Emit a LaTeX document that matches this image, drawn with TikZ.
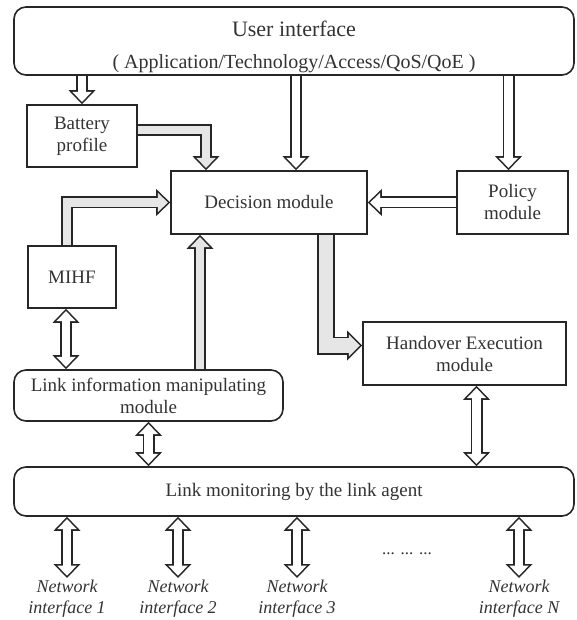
\documentclass[tikz,border=0pt]{standalone}
\usepackage{fontspec}
\setmainfont{Liberation Serif}
\usetikzlibrary{arrows.meta, positioning, calc, backgrounds}
\definecolor{cink}{HTML}{262626}
\definecolor{ctext}{HTML}{333333}
\definecolor{cshade}{HTML}{E6E6E6}
\tikzset{
  every picture/.style={line width=1.6pt},
  headout/.tip={Triangle[length=14pt, width=27pt, line width=0pt]},
  headin/.tip={Triangle[length=10.1pt, width=19.5pt, line width=0pt]},
  fatout/.tip={Triangle[length=15pt, width=30pt, line width=0pt]},
  fatin/.tip={Triangle[length=11.1pt, width=22.2pt, line width=0pt]},
  box/.style={draw=cink, fill=white, text=ctext, align=center, inner sep=2pt, font=\fontsize{19}{22}\selectfont},
  flow/.style={draw=#1, line width=8.8pt, -headin, shorten >=2.3pt,
    preaction={draw=cink, line width=12pt, -headout, shorten >=0pt}},
  flow/.default=white,
  biflow/.style={draw=white, line width=8.8pt, headin-headin, shorten >=2.3pt, shorten <=2.3pt,
    preaction={draw=cink, line width=12pt, headout-headout, shorten >=0pt, shorten <=0pt}},
  fatflow/.style={draw=cshade, line width=14.8pt, -fatin, shorten >=2.3pt,
    preaction={draw=cink, line width=18pt, -fatout, shorten >=0pt}},
  netlabel/.style={text=ctext, align=center, inner sep=1.5pt, anchor=north, font=\itshape\fontsize{18}{21}\selectfont},
}
\begin{document}
\begin{tikzpicture}[x=1pt, y=-1pt,
  roundbox/.style={box, rounded corners=12pt}]
  \useasboundingbox (0,0) rectangle (576,620);
  % modules
  \node[roundbox, minimum width=560pt, minimum height=68pt, font=\fontsize{20}{32}\selectfont] (ui) at (294,41)
    {{\fontsize{22}{32}\selectfont\rule{0pt}{27pt}User interface}\\( Application/Technology/Access/QoS/QoE )};
  \node[box, minimum width=110pt, minimum height=62pt] (bat) at (82,136) {Battery\\profile};
  \node[box, minimum width=196pt, minimum height=63pt] (dec) at (269,202.5) {Decision module};
  \node[box, minimum width=111pt, minimum height=63pt] (pol) at (512.5,202.5) {Policy\\module};
  \node[box, minimum width=88pt, minimum height=62pt] (mihf) at (72,277) {MIHF};
  \node[roundbox, minimum width=269pt, minimum height=51pt] (lim) at (148.5,395.5) {Link information manipulating\\module};
  \node[box, minimum width=203pt, minimum height=63pt] (hem) at (464.5,353.5) {Handover Execution\\module};
  \node[roundbox, minimum width=560pt, minimum height=49pt] (mon) at (294,491.5) {Link monitoring by the link agent};
  \node[text=ctext, font=\fontsize{17}{20}\selectfont] (dots) at (407,554) {... ... ...};
  % arrows go under the boxes
  \begin{scope}[on background layer]
    \draw[flow] (bat.north |- ui.south) -- (bat.north);
    \draw[flow] ([xshift=27pt]dec.north |- ui.south) -- ([xshift=27pt]dec.north);
    \draw[flow] ([xshift=-4pt]pol.north |- ui.south) -- ([xshift=-4pt]pol.north);
    \draw[flow] (pol.west) -- (dec.east);
    \draw[flow=cshade] ([yshift=6pt]bat.east) -| ([xshift=-63pt]dec.north);
    \draw[flow=cshade] ([xshift=-5pt]mihf.north) |- (dec.west);
    \draw[flow=cshade] ([xshift=-69pt]dec.south |- lim.north) -- ([xshift=-69pt]dec.south);
    \draw[biflow] ([xshift=-6pt]mihf.south) -- ([xshift=-6pt]mihf.south |- lim.north);
    \draw[biflow] (lim.south) -- (lim.south |- mon.north);
    \draw[fatflow] ([xshift=57pt]dec.south) |- ([yshift=8pt]hem.west);
    \draw[biflow] ([xshift=12pt]hem.south) -- ([xshift=12pt]hem.south |- mon.north);
    % network interfaces below the link agent
    \foreach \x/\k [count=\i] in {67/1, 178/2, 297/3, 519/N} {
      \node[netlabel] (net\i) at (\x,578) {Network\\interface \k};
      \draw[biflow] (net\i.north |- mon.south) -- (net\i.north);
    }
  \end{scope}
\end{tikzpicture}
\end{document}
